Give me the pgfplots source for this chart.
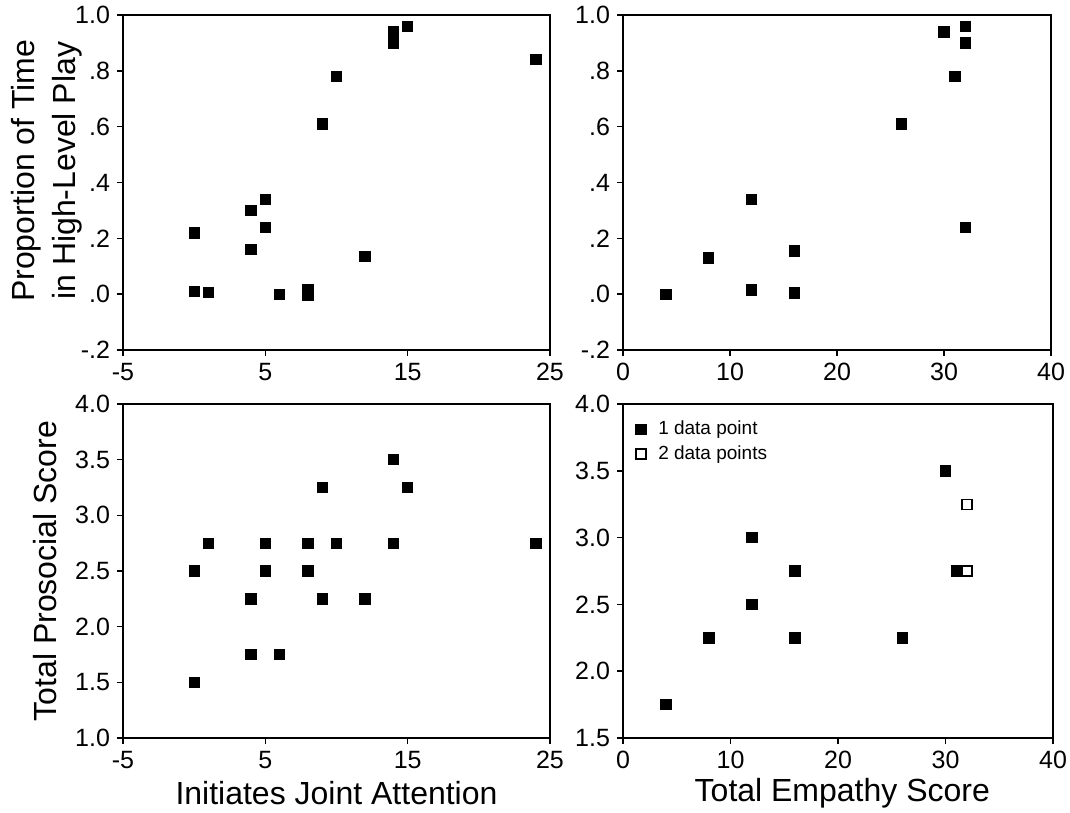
\documentclass[border=0pt]{standalone}
\usepackage{fontspec}
\setmainfont{Liberation Sans}
\usepackage{pgfplots}
\pgfplotsset{compat=1.18}

\pgfplotsset{
  panel/.style={
    scale only axis,
    axis line style={black, line width=0.8pt},
    tick style={black, line width=0.8pt},
    tick align=outside,
    xtick pos=bottom, ytick pos=left,
    major tick length=3pt,
    ticklabel style={font=\fontsize{12.5}{14}\selectfont},
    label style={font=\fontsize{16}{20.5}\selectfont},
    /pgf/number format/assume math mode=true,
    clip=false,
  },
  dots/.style={only marks, mark=square*, mark size=2.6pt,
    mark options={draw=black, fill=black}},
  top/.style={ymin=-0.2, ymax=1.0, height=167.5pt,
    ytick={-0.2,0,0.2,0.4,0.6,0.8,1.0},
    yticklabels={-.2,.0,.2,.4,.6,.8,1.0}},
  tens/.style={yticklabel style={/pgf/number format/.cd, fixed, fixed zerofill, precision=1}},
}

\begin{document}
\begin{tikzpicture}
\path[use as bounding box] (0,0) rectangle (535pt,-406.5pt);

% top left
\begin{axis}[panel, top, at={(61.5pt,-175pt)}, anchor=south west,
    width=213.5pt,
    xmin=-5, xmax=25, xtick={-5,5,15,25},
    ylabel={Proportion of Time\\in High-Level Play},
    ylabel style={align=center, at={(rel axis cs:-0.178,0.535)}, anchor=center}]
  \addplot[dots] coordinates {
    (0,0.22) (0,0.01) (1,0.007) (4,0.30) (4,0.16) (5,0.34) (5,0.24)
    (6,0.0) (8,0.017) (8,-0.004) (9,0.61) (10,0.78) (12,0.135)
    (14,0.94) (14,0.90) (15,0.96) (24,0.84)
  };
\end{axis}

% top right
\begin{axis}[panel, top, at={(311.5pt,-175pt)}, anchor=south west,
    width=214pt,
    xmin=0, xmax=40, xtick={0,10,20,30,40}]
  \addplot[dots] coordinates {
    (4,0.0) (8,0.13) (12,0.34) (12,0.015) (16,0.155) (16,0.005)
    (26,0.61) (30,0.94) (31,0.78) (32,0.96) (32,0.90) (32,0.24)
  };
\end{axis}

% bottom left
\begin{axis}[panel, tens, at={(61.5pt,-369pt)}, anchor=south west,
    width=213.5pt, height=167pt,
    xmin=-5, xmax=25, xtick={-5,5,15,25},
    ymin=1, ymax=4, ytick={1,1.5,2,2.5,3,3.5,4},
    xlabel={Initiates Joint Attention},
    xlabel style={at={(rel axis cs:0.5,-0.165)}, anchor=center},
    ylabel={Total Prosocial Score},
    ylabel style={at={(rel axis cs:-0.183,0.5)}, anchor=center}]
  \addplot[dots] coordinates {
    (14,3.5) (9,3.25) (15,3.25)
    (1,2.75) (5,2.75) (8,2.75) (10,2.75) (14,2.75) (24,2.75)
    (0,2.5) (5,2.5) (8,2.5)
    (4,2.25) (9,2.25) (12,2.25)
    (4,1.75) (6,1.75) (0,1.5)
  };
\end{axis}

% bottom right
\begin{axis}[panel, tens, at={(311.5pt,-369pt)}, anchor=south west,
    width=215pt, height=167pt,
    xmin=0, xmax=40, xtick={0,10,20,30,40},
    ymin=1.5, ymax=4, ytick={1.5,2,2.5,3,3.5,4},
    xlabel={Total Empathy Score},
    xlabel style={at={(rel axis cs:0.51,-0.165)}, anchor=center},
    legend style={draw=none, fill=none, at={(0.015,0.975)}, anchor=north west,
      font=\fontsize{9.5}{11}\selectfont, row sep=0pt,
      /tikz/every odd column/.append style={column sep=4pt}},
    legend cell align=left]
  \addplot[dots] coordinates {
    (4,1.75) (8,2.25) (12,3.0) (12,2.5) (16,2.75) (16,2.25)
    (26,2.25) (30,3.5) (31,2.75)
  };
  \addlegendentry{1 data point}
  \addplot[only marks, mark=square, mark size=2.5pt,
    mark options={draw=black, fill=white, line width=0.7pt}] coordinates {
    (32,3.25) (32,2.75)
  };
  \addlegendentry{2 data points}
\end{axis}
\end{tikzpicture}
\end{document}
